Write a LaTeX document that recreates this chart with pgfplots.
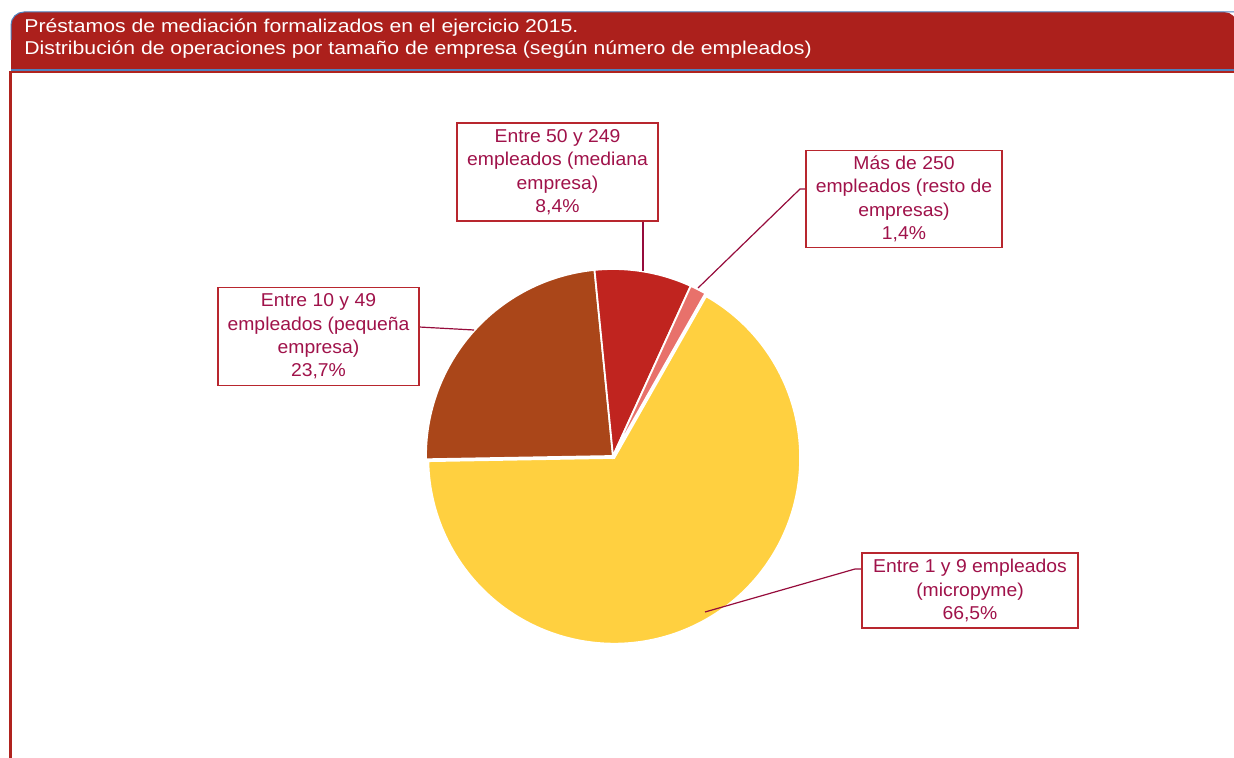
\documentclass[border=0pt]{standalone}
\usepackage{pgfplots}
\usepgfplotslibrary{polar}
\pgfplotsset{compat=1.18}
\usepackage{fontspec}
\setmainfont{Liberation Sans}
\newfontfamily\bannerfont[FakeStretch=1.14]{Liberation Sans}
\newfontfamily\labfont[FakeStretch=1.04]{Liberation Sans}
\definecolor{banner}{HTML}{AC201C}
\definecolor{bannerline}{HTML}{4F81BD}
\definecolor{frame}{HTML}{B0231E}
\definecolor{cyellow}{HTML}{FFD040}
\definecolor{cbrown}{HTML}{AA4619}
\definecolor{cred}{HTML}{C0241F}
\definecolor{cpink}{HTML}{E8716B}
\definecolor{labc}{HTML}{A0124A}
\definecolor{boxc}{HTML}{B8262E}
\definecolor{leadc}{HTML}{960C3C}
\begin{document}
\begin{tikzpicture}
\begin{scope}[x=0.5pt,y=-0.5pt]
\path[use as bounding box] (0,0) rectangle (1234,758);
% frame
\draw[frame, line width=1.1pt] (10.5,71) -- (10.5,758);
\draw[frame, line width=0.8pt] (10,72) -- (1236,72);
% banner
\fill[banner] (11,70) [rounded corners=6.5pt] -- (11,12) -- (1237,12) [sharp corners] -- (1237,70) -- cycle;
\draw[bannerline, line width=0.5pt] (11,40) [rounded corners=6.5pt] -- (11,12) -- (1237,12) [sharp corners];
\draw[bannerline, line width=0.8pt] (11,70) -- (1237,70);
\node[anchor=base west, white, inner sep=0pt, font=\bannerfont\fontsize{9.3}{11}\selectfont] at (24,32.5) {Préstamos de mediación formalizados en el ejercicio 2015.};
\node[anchor=base west, white, inner sep=0pt, font=\bannerfont\fontsize{9.3}{11}\selectfont] at (24,54.5) {Distribución de operaciones por tamaño de empresa (según número de empleados)};
\end{scope}
% pie (radius 187 px = 93.5 pt), centre at px (613,456)
\begin{polaraxis}[at={(306.5pt,-228pt)}, anchor=center, hide axis,
  scale only axis, width=187pt, height=187pt, ymin=0, ymax=187, clip=false]
% Entre 1 y 9 empleados: 66.5% -> 239.4 deg
\addplot[fill=cyellow, draw=white, line width=1pt, domain=-179.0:60.4, samples=150, xshift=0.6pt, yshift=-0.9pt] {186} -- (axis cs:0,0) -- cycle;
% Entre 10 y 49: 23.7% -> 85.32 deg
\addplot[fill=cbrown, draw=white, line width=0.9pt, domain=95.68:181.0, samples=70] {187} -- (axis cs:0,0) -- cycle;
% Entre 50 y 249: 8.4% -> 30.24 deg
\addplot[fill=cred, draw=white, line width=0.9pt, domain=65.44:95.68, samples=30] {187} -- (axis cs:0,0) -- cycle;
% Mas de 250: 1.4% -> 5.04 deg
\addplot[fill=cpink, draw=white, line width=0.9pt, domain=60.4:65.44, samples=8] {187} -- (axis cs:0,0) -- cycle;
\end{polaraxis}
\begin{scope}[x=0.5pt,y=-0.5pt]
% leaders
\draw[leadc, line width=0.6pt] (705,612) -- (855,569) -- (862,569);
\draw[leadc, line width=0.6pt] (698,288) -- (800,189) -- (806,189);
\draw[leadc, line width=0.6pt] (643,221) -- (643,271);
\draw[leadc, line width=0.6pt] (419,327) -- (474,330);
% labels
\tikzset{lab/.style={draw=boxc, line width=0.6pt, fill=white, text=labc, align=center, inner sep=0pt, font=\labfont\fontsize{9.3}{11.7}\selectfont}}
\node[lab, minimum width=100.5pt, minimum height=49pt] at (557.5,172) {Entre 50 y 249\\empleados (mediana\\empresa)\\8,4\%};
\node[lab, minimum width=98pt, minimum height=48.5pt] at (904,199) {Más de 250\\empleados (resto de\\empresas)\\1,4\%};
\node[lab, minimum width=100.5pt, minimum height=49pt] at (318.5,336.5) {Entre 10 y 49\\empleados (pequeña\\empresa)\\23,7\%};
\node[lab, minimum width=108pt, minimum height=37.5pt] at (970,590.5) {Entre 1 y 9 empleados\\(micropyme)\\66,5\%};
\end{scope}
\end{tikzpicture}
\end{document}
